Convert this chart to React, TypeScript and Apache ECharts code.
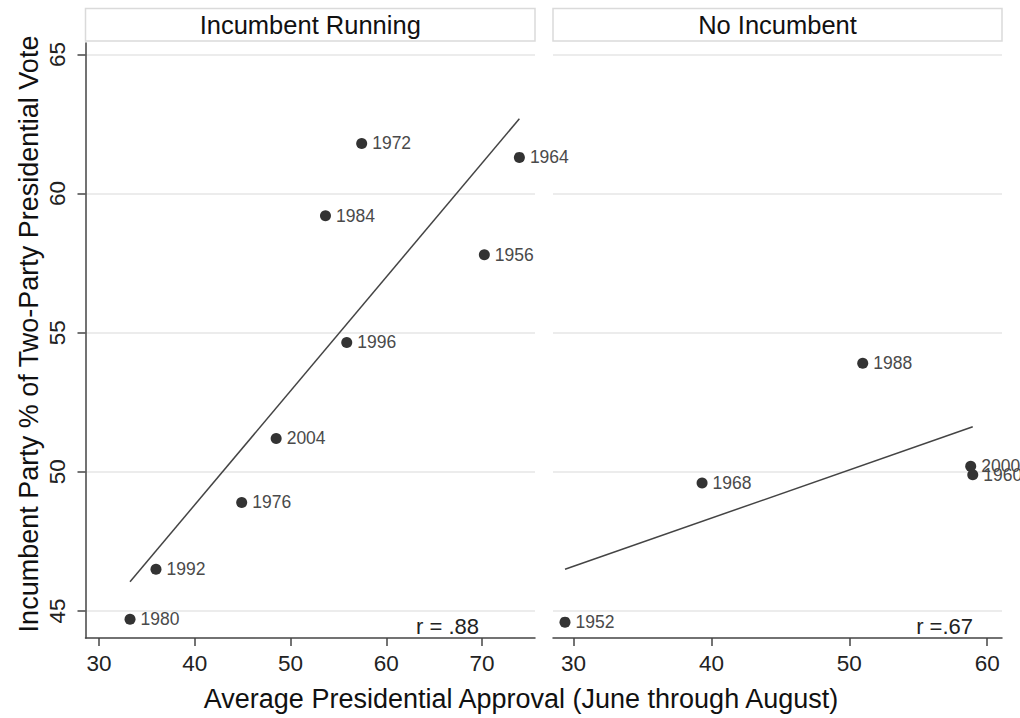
import React, { useEffect, useRef } from "react";
import * as echarts from "echarts";

const FONT = "'Liberation Sans', Arial, Helvetica, sans-serif";

// Incumbent running panel
const yearsLeft = ["1980", "1992", "1976", "2004", "1996", "1984", "1972", "1964", "1956"];
const approvalLeft = [33.24, 35.95, 44.9, 48.5, 55.87, 53.65, 57.43, 73.9, 70.24];
const voteLeft = [44.7, 46.5, 48.9, 51.2, 54.65, 59.2, 61.8, 61.3, 57.8];
const fitLeft: [number, number][] = [[33.24, 46.05], [73.9, 62.69]];

// No incumbent panel
const yearsRight = ["1952", "1968", "1988", "2000", "1960"];
const approvalRight = [29.38, 39.32, 50.97, 58.8, 58.95];
const voteRight = [44.6, 49.6, 53.9, 50.2, 49.9];
const fitRight: [number, number][] = [[29.38, 46.5], [58.95, 51.62]];

const xTicksLeft = [30, 40, 50, 60, 70];
const xTicksRight = [30, 40, 50, 60];
const yTicks = [45, 50, 55, 60, 65];

const panelTitles = ["Incumbent Running", "No Incumbent"];
const rLabels = ["r = .88", "r =.67"];
const xTitle = "Average Presidential Approval (June through August)";
const yTitle = "Incumbent Party % of Two-Party Presidential Vote";

const G_TOP = 43;
const G_H = 595;
const G0 = { left: 85.5, width: 449.5 };
const G1 = { left: 553, width: 449 };

export default function App() {
  const ref = useRef<HTMLDivElement>(null);
  useEffect(() => {
    if (!ref.current) return;
    const chart = echarts.init(ref.current, null, { renderer: "svg" });

    const mkPts = (years: string[], xs: number[], ys: number[]) =>
      years.map((yr, i) => ({ name: yr, value: [xs[i], ys[i]] }));

    const xAxisCommon = (ticks: number[], min: number, max: number, gridIndex: number) => ({
      type: "value",
      gridIndex,
      min,
      max,
      axisLine: { show: true, lineStyle: { color: "#444", width: 1.5 } },
      axisTick: { show: true, length: 8, customValues: ticks, lineStyle: { color: "#444", width: 1.5 } },
      axisLabel: { customValues: ticks, fontSize: 22.5, color: "#222", fontFamily: FONT, margin: 14 },
      splitLine: { show: false },
    });

    const yAxisCommon = (gridIndex: number, showAxis: boolean) => ({
      type: "value",
      gridIndex,
      min: 44.03,
      max: 65.41,
      axisLine: { show: showAxis, lineStyle: { color: "#444", width: 1.5 } },
      axisTick: { show: showAxis, length: 8, customValues: yTicks, lineStyle: { color: "#444", width: 1.5 } },
      axisLabel: {
        show: showAxis,
        customValues: yTicks,
        rotate: 90,
        fontSize: 22.5,
        color: "#222",
        fontFamily: FONT,
        margin: 17,
      },
      splitLine: { show: true, lineStyle: { color: "#e6e6e6", width: 1.5 } },
    });

    const scatter = (xi: number, data: any[]) => ({
      type: "scatter",
      xAxisIndex: xi,
      yAxisIndex: xi,
      data,
      symbol: "circle",
      symbolSize: 11,
      itemStyle: { color: "#333", opacity: 1 },
      label: {
        show: true,
        position: "right",
        distance: 5,
        formatter: "{b}",
        fontSize: 17.5,
        color: "#4a4a4a",
        fontFamily: FONT,
      },
      z: 3,
    });

    const fit = (xi: number, data: [number, number][]) => ({
      type: "line",
      xAxisIndex: xi,
      yAxisIndex: xi,
      data,
      symbol: "none",
      lineStyle: { color: "#444", width: 1.5 },
      z: 2,
    });

    const header = (g: { left: number; width: number }, text: string) => [
      {
        type: "rect",
        shape: { x: g.left, y: 8.5, width: g.width, height: 32.5 },
        style: { fill: "#fff", stroke: "#dadada", lineWidth: 1.5 },
      },
      {
        type: "text",
        x: g.left + g.width / 2,
        y: 25,
        style: { text, fontSize: 25.5, fill: "#111", fontFamily: FONT, align: "center", verticalAlign: "middle" },
      },
    ];

    chart.setOption({
      animation: false,
      backgroundColor: "#fff",
      grid: [
        { left: G0.left, top: G_TOP, width: G0.width, height: G_H },
        { left: G1.left, top: G_TOP, width: G1.width, height: G_H },
      ],
      xAxis: [
        xAxisCommon(xTicksLeft, 28.59, 75.53, 0),
        xAxisCommon(xTicksRight, 28.51, 61.07, 1),
      ],
      yAxis: [yAxisCommon(0, true), yAxisCommon(1, false)],
      series: [
        fit(0, fitLeft),
        fit(1, fitRight),
        scatter(0, mkPts(yearsLeft, approvalLeft, voteLeft)),
        scatter(1, mkPts(yearsRight, approvalRight, voteRight)),
      ],
      graphic: [
        ...header(G0, panelTitles[0]),
        ...header(G1, panelTitles[1]),
        {
          type: "text",
          x: 479,
          y: 626,
          style: { text: rLabels[0], fontSize: 22, fill: "#222", fontFamily: FONT, align: "right", verticalAlign: "middle" },
        },
        {
          type: "text",
          x: 973,
          y: 626,
          style: { text: rLabels[1], fontSize: 22, fill: "#222", fontFamily: FONT, align: "right", verticalAlign: "middle" },
        },
        {
          type: "text",
          x: 521,
          y: 699,
          style: { text: xTitle, fontSize: 27, fill: "#111", fontFamily: FONT, align: "center", verticalAlign: "middle" },
        },
        {
          type: "text",
          x: 29,
          y: 334,
          rotation: Math.PI / 2,
          style: { text: yTitle, fontSize: 27, fill: "#111", fontFamily: FONT, align: "center", verticalAlign: "middle" },
        },
      ],
    });
    return () => chart.dispose();
  }, []);
  return (
    <div
      ref={ref}
      style={{ position: "fixed", left: 0, top: 0, width: 1020, height: 718, background: "#fff" }}
    />
  );
}
